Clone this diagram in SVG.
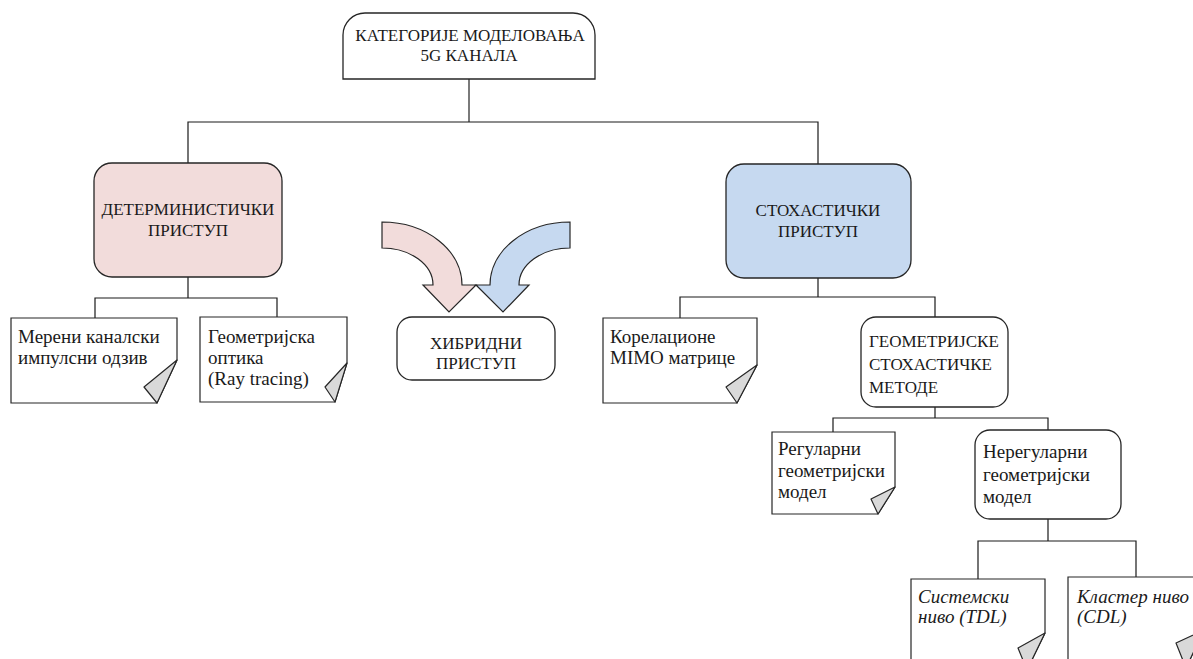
<svg xmlns="http://www.w3.org/2000/svg" width="1193" height="659" viewBox="0 0 1193 659">
<style>
.box{stroke:#262626;stroke-width:1.3;}
.page{fill:#fff;stroke:#262626;stroke-width:1.2;}
.flap{fill:#d9d9d9;stroke:#262626;stroke-width:1.2;stroke-linejoin:round;}
.conn{fill:none;stroke:#1a1a1a;stroke-width:1.2;}
.cap{font-family:"Liberation Serif",serif;font-size:17px;fill:#1a1a1a;text-anchor:middle;}
.body{font-family:"Liberation Serif",serif;font-size:19px;fill:#1a1a1a;}
.it{font-style:italic;}
</style>
<rect width="1193" height="659" fill="#fff"/>
<g id="connectors">
  <path d="M469,79 V122" fill="none" stroke="#595959" stroke-width="1.6"/>
  <path class="conn" d="M188,163 V122 H818 V164"/>
  <path class="conn" d="M188,277 V298 M95,318 V298 H277 V317"/>
  <path class="conn" d="M818,278 V297 M680,318 V297 H935 V317"/>
  <path class="conn" d="M935,407 V418 M833,432 V418 H1048 V430"/>
  <path class="conn" d="M1048,519 V541 M978,579 V541 H1136 V577"/>
</g>
<g id="root">
  <path class="box" fill="#fff" d="M343,79 V35 A22,22 0 0 1 365,13 H573 A22,22 0 0 1 595,35 V79 Z"/>
  <text class="cap" x="470" y="41">КАТЕГОРИЈЕ МОДЕЛОВАЊА</text>
  <text class="cap" x="469" y="61">5G КАНАЛА</text>
</g>
<g id="deterministic">
  <rect class="box" x="94" y="163" width="188" height="114" rx="18" fill="#f2dcdb"/>
  <text class="cap" x="188" y="215">ДЕТЕРМИНИСТИЧКИ</text>
  <text class="cap" x="188" y="236">ПРИСТУП</text>
</g>
<g id="stochastic">
  <rect class="box" x="726" y="164" width="185" height="114" rx="18" fill="#c6d9f0"/>
  <text class="cap" x="818" y="216">СТОХАСТИЧКИ</text>
  <text class="cap" x="818" y="237">ПРИСТУП</text>
</g>
<g id="measured">
  <path class="page" d="M11,318 H177 V360 L157,403 H11 Z"/>
  <path class="flap" d="M177,360 L144,387 L157,403 Z"/>
  <text class="body" x="18" y="343">Мерени каналски</text>
  <text class="body" x="18" y="364">импулсни одзив</text>
</g>
<g id="raytracing">
  <path class="page" d="M200,317 H347 V363 L335,402 H200 Z"/>
  <path class="flap" d="M347,363 L325,387 L335,402 Z"/>
  <text class="body" x="208" y="343">Геометријска</text>
  <text class="body" x="208" y="364">оптика</text>
  <text class="body" x="208" y="385">(Ray tracing)</text>
</g>
<g id="hybrid-arrows">
  <path d="M382,222 A80,63 0 0 1 462,285 L476,285 L449,312 L423,285 L433,285 A51,37 0 0 0 382,248 Z" fill="#f2dcdb" stroke="#262626" stroke-width="1.2" stroke-linejoin="miter"/>
  <path transform="translate(952,0) scale(-1,1)" d="M382,222 A80,63 0 0 1 462,285 L476,285 L449,312 L423,285 L433,285 A51,37 0 0 0 382,248 Z" fill="#c6d9f0" stroke="#262626" stroke-width="1.2"/>
</g>
<g id="hybrid">
  <rect class="box" x="397" y="317" width="158" height="63" rx="15" fill="#fff"/>
  <text class="cap" x="476" y="349">ХИБРИДНИ</text>
  <text class="cap" x="476" y="369">ПРИСТУП</text>
</g>
<g id="mimo">
  <path class="page" d="M603,318 H757 V365 L737,403 H603 Z"/>
  <path class="flap" d="M757,365 L726,387 L737,403 Z"/>
  <text class="body" x="610" y="343">Корелационе</text>
  <text class="body" x="610" y="364">MIMO матрице</text>
</g>
<g id="geometric">
  <rect class="box" x="861" y="317" width="147" height="90" rx="15" fill="#fff"/>
  <text class="cap" x="869" y="347" style="text-anchor:start">ГЕОМЕТРИЈСКЕ</text>
  <text class="cap" x="869" y="370" style="text-anchor:start">СТОХАСТИЧКЕ</text>
  <text class="cap" x="869" y="393" style="text-anchor:start">МЕТОДЕ</text>
</g>
<g id="regular">
  <path class="page" d="M772,432 H895 V487 L878,514 H772 Z"/>
  <path class="flap" d="M895,487 L871,499 L878,514 Z"/>
  <text class="body" x="778" y="455">Регуларни</text>
  <text class="body" x="778" y="477">геометријски</text>
  <text class="body" x="778" y="498">модел</text>
</g>
<g id="irregular">
  <rect class="box" x="975" y="430" width="146" height="89" rx="15" fill="#fff"/>
  <text class="body" x="983" y="458">Нерегуларни</text>
  <text class="body" x="983" y="481">геометријски</text>
  <text class="body" x="983" y="503">модел</text>
</g>
<g id="tdl">
  <path class="page" d="M911,579 H1045 V633 L1027,670 H911 Z"/>
  <path class="flap" d="M1045,633 L1018,648 L1027,670 Z"/>
  <text class="body it" x="918" y="603">Системски</text>
  <text class="body it" x="918" y="623">ниво (TDL)</text>
</g>
<g id="cdl">
  <path class="page" d="M1068,577 H1204 V630 L1186,668 H1068 Z"/>
  <path class="flap" d="M1204,630 L1176,643 L1186,668 Z"/>
  <text class="body it" x="1077" y="603">Кластер ниво</text>
  <text class="body it" x="1077" y="623">(CDL)</text>
</g>
</svg>
